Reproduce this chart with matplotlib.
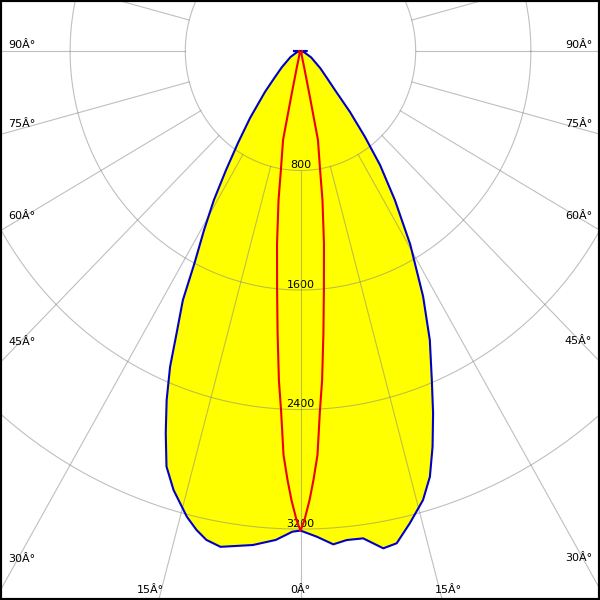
import numpy as np
import matplotlib
matplotlib.use("Agg")
import matplotlib.pyplot as plt

# Intensidades (cd) leídas del diagrama, ángulo desde la vertical hacia abajo
# Plano amarillo, mitad izquierda
ang_left = [0, 1, 3, 5.7, 9.5, 11.3, 12.7, 14.2, 16.7, 18.5, 20.1, 21.7, 23.2,
            24.5, 26.1, 27.4, 29.2, 31.1, 33, 35.2, 38, 42, 45, 50, 60, 70, 80, 90]
val_left = [3210, 3218, 3277, 3323, 3365, 3337, 3286, 3216, 3068, 2933, 2723,
            2514, 2299, 2074, 1857, 1600, 1373, 1164, 949, 753, 569, 369, 260,
            170, 80, 30, 15, 45]
# Plano amarillo, mitad derecha
ang_right = [0, 2, 3.95, 5.6, 7.6, 9.8, 11.46, 13.5, 15.8, 17.5, 19.1, 20.8,
             22.5, 24.9, 27.4, 30.5, 33.3, 35.9, 37.9, 40.1, 42.5, 45, 50, 60,
             70, 80, 90]
val_right = [3210, 3253, 3310, 3289, 3291, 3378, 3362, 3251, 3124, 2988, 2803,
             2593, 2383, 2133, 1850, 1500, 1194, 942, 729, 534, 354, 270, 180,
             85, 30, 15, 45]
# Plano rojo (simétrico)
ang_red = [0, 0.5, 1.2, 1.8, 2.5, 3.2, 3.9, 4.8, 5.8, 7.2, 8.7, 9.7, 11.5, 12.0,
           13.0, 15, 20, 45, 90]
val_red = [3210, 3140, 3006, 2872, 2706, 2414, 2207, 1900, 1608, 1300, 1008, 808,
           608, 312, 120, 40, 20, 12, 10]

rings = [800, 1600, 2400, 3200]
ring_labels = ["800", "1600", "2400", "3200"]
side_angles = [90, 75, 60, 45, 30]
bottom_angles = [15, 0]

# escala en píxeles por cd (el original no es exactamente isótropo)
sx, sy = 0.1440, 0.1494
cx, cy = 300.5, 51.0


def to_xy(ang, val, side):
    a = np.radians(np.asarray(ang, dtype=float))
    v = np.asarray(val, dtype=float)
    return side * v * np.sin(a), -v * np.cos(a)


fig = plt.figure(figsize=(6, 6), dpi=100)
ax = fig.add_axes([0, 0, 1, 1])
ax.set_xlim(-cx / sx, (600 - cx) / sx)
ax.set_ylim(-(600 - cy) / sy, cy / sy)
ax.set_xticks([])
ax.set_yticks([])
for s in ax.spines.values():
    s.set_linewidth(3)
    s.set_color("black")

# curva amarilla (cerrada, con el tramo horizontal arriba)
xl, yl = to_xy(ang_left, val_left, -1)
xr, yr = to_xy(ang_right, val_right, 1)
xb = np.concatenate([xl[::-1], xr, xl[-1:]])
yb = np.concatenate([yl[::-1], yr, yl[-1:]])
ax.fill(xb, yb, color="#ffff00", zorder=1, lw=0)

# rejilla
t = np.linspace(0, 2 * np.pi, 400)
for r in rings:
    ax.plot(r * np.cos(t), r * np.sin(t), color="#808080", alpha=0.5, lw=0.8, zorder=2)
for a in range(0, 360, 15):
    ar = np.radians(a)
    ax.plot([800 * np.sin(ar), 8000 * np.sin(ar)], [-800 * np.cos(ar), -8000 * np.cos(ar)],
            color="#808080", alpha=0.5, lw=0.8, zorder=2)

for r, lab in zip(rings, ring_labels):
    ax.annotate(lab, (0, -r), xytext=(0, 1.5), textcoords="offset points",
                ha="center", va="baseline", fontsize=8, zorder=1.5)

ax.plot(xb, yb, color="#0000c8", lw=1.5, zorder=3)

xrl, yrl = to_xy(ang_red, val_red, -1)
xrr, yrr = to_xy(ang_red, val_red, 1)
ax.plot(np.concatenate([xrl[::-1], xrr]), np.concatenate([yrl[::-1], yrr]),
        color="#ee0000", lw=1.5, zorder=4)

# etiquetas de ángulo
for a in side_angles:
    ar = np.radians(a)
    for px, ha, edge in [(14, "left", 8), (586, "right", 592)]:
        X = (px - cx) / sx
        Y = -abs(X) / np.tan(ar) if a != 90 else 0.0
        Xe = (edge - cx) / sx
        ax.annotate(f"{a}Â°", (Xe, Y), xytext=(0, 2.5), textcoords="offset points",
                    ha=ha, va="baseline", fontsize=8, annotation_clip=False)

Yb = -(593 - cy) / sy
for a in bottom_angles:
    ar = np.radians(a)
    if a == 0:
        ax.annotate("0Â°", (0, Yb), ha="center", va="baseline", fontsize=8)
    else:
        X = abs(Yb) * np.tan(ar)
        ax.annotate(f"{a}Â°", (-X, Yb), xytext=(2.5, 0), textcoords="offset points",
                    ha="right", va="baseline", fontsize=8)
        ax.annotate(f"{a}Â°", (X, Yb), xytext=(-4, 0), textcoords="offset points",
                    ha="left", va="baseline", fontsize=8)

fig.savefig("out.png", dpi=100)
